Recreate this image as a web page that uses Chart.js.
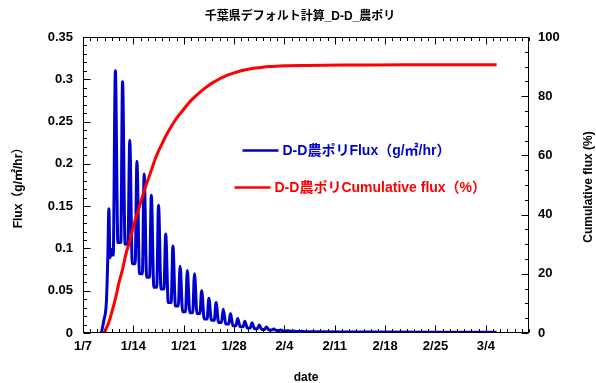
<!DOCTYPE html>
<html>
<head>
<meta charset="utf-8">
<script src="https://cdn.jsdelivr.net/npm/chart.js@4.4.1/dist/chart.umd.min.js"></script>
<style>
  html, body { margin: 0; padding: 0; background: #fff; }
  #wrap { width: 596px; height: 383px; }
</style>
</head>
<body>
<div id="wrap"><canvas id="fluxChart" width="596" height="383"></canvas></div>
<script>
// days are counted from 1/7 00:00
const weekLabels = ['1/7', '1/14', '1/21', '1/28', '2/4', '2/11', '2/18', '2/25', '3/4'];
const fluxTicks = [0, 0.05, 0.1, 0.15, 0.2, 0.25, 0.3, 0.35];
const cumTicks = [0, 20, 40, 60, 80, 100];

// start of emission, before the first daily peak
const onsetDays = [2.55, 2.9, 3.25, 3.45, 3.6, 3.75, 4.05, 4.2];
const onsetFlux = [0, 0.015, 0.037, 0.09, 0.147, 0.089, 0.099, 0.092];

// daily maxima (first at day 4.5, then one per day) and the low that follows each
const firstPeakDay = 4.5;
const dailyPeaks = [0.31, 0.297, 0.228, 0.203, 0.188, 0.163, 0.151, 0.117, 0.103, 0.079,
  0.074, 0.07, 0.05, 0.041, 0.036, 0.028, 0.023, 0.017, 0.014, 0.012,
  0.0095, 0.0072, 0.0048, 0.0035, 0.0027, 0.0022, 0.002];
const dailyLows = [0.107, 0.105, 0.082, 0.07, 0.066, 0.054, 0.052, 0.036, 0.032, 0.025,
  0.024, 0.023, 0.0165, 0.015, 0.0125, 0.0105, 0.0085, 0.0075, 0.006, 0.005,
  0.0042, 0.0035, 0.003, 0.0025, 0.002, 0.0017, 0.0016];

// long tail after the daily cycle dies out
const tailDays = [32, 40, 50, 57.5];
const tailFlux = [0.0015, 0.0012, 0.001, 0.001];

// cumulative flux (%)
const cumDays = [2.9, 3.5, 4.0, 4.5, 5.0, 5.5, 6.0, 6.5, 7.0, 7.5, 8.0, 8.5, 9.0, 9.5, 10.0,
  10.5, 11.0, 11.5, 12.0, 12.5, 13.0, 14.0, 15.0, 16.0, 17.0, 18.0, 19.0, 20.0, 21.0, 22.0,
  23.0, 24.0, 25.0, 26.0, 28.0, 31.0, 36.0, 45.0, 57.5];
const cumPct = [0, 3, 7, 11.5, 17, 21.5, 27, 31, 36, 40, 44, 48, 51.5, 55, 58.5,
  61.5, 64, 66.5, 68.7, 70.7, 72.5, 75.6, 78.5, 80.8, 82.8, 84.5, 85.9, 87.0, 87.9, 88.6,
  89.1, 89.5, 89.8, 90.0, 90.3, 90.4, 90.5, 90.6, 90.6];

const BLUE = '#0000cc';
const RED = '#ff0000';
const family = '"Liberation Sans", Arial, "Noto Sans CJK JP", sans-serif';
const labelFont = { family: family, size: 13, weight: 'bold' };

// build the flux series point by point
const fluxPoints = onsetDays.map((d, i) => ({ x: d, y: onsetFlux[i] }));
dailyPeaks.forEach((p, k) => {
  const d = firstPeakDay + k;
  fluxPoints.push({ x: d, y: p });
  fluxPoints.push({ x: d + 0.35, y: dailyLows[k] });
  fluxPoints.push({ x: d + 0.75, y: dailyLows[k] });
});
tailDays.forEach((d, i) => fluxPoints.push({ x: d, y: tailFlux[i] }));

const cumPoints = cumDays.map((d, i) => ({ x: d, y: cumPct[i] }));

// frame, inward tick marks, legend, chart title and right-hand axis title
const decorations = {
  id: 'decorations',
  afterDatasetsDraw(chart) {
    const { ctx, chartArea: a, scales } = chart;
    const L = Math.round(a.left) + 0.5, R = Math.round(a.right) - 0.5;
    const T = Math.round(a.top) + 0.5, B = Math.round(a.bottom) - 0.5;
    ctx.save();
    ctx.strokeStyle = '#000';
    ctx.lineWidth = 1;
    ctx.beginPath();
    const seg = (x1, y1, x2, y2) => { ctx.moveTo(x1, y1); ctx.lineTo(x2, y2); };
    // x: a tick every day, longer every week
    for (let d = 0; d <= scales.x.max; d++) {
      const px = Math.round(scales.x.getPixelForValue(d)) + 0.5;
      const len = d % 7 === 0 ? 7 : 3.5;
      seg(px, B, px, B - len);
      seg(px, T, px, T + len);
    }
    // left: every 0.01, longer every 0.05
    for (let i = 0; i <= 35; i++) {
      const py = Math.round(scales.y.getPixelForValue(i / 100)) + 0.5;
      seg(L, py, L + (i % 5 === 0 ? 7 : 3.5), py);
    }
    // right: every 5 %, longer every 20 %
    for (let i = 0; i <= 100; i += 5) {
      const py = Math.round(scales.y2.getPixelForValue(i)) + 0.5;
      seg(R, py, R - (i % 20 === 0 ? 7 : 3.5), py);
    }
    ctx.stroke();
    ctx.strokeRect(L, T, R - L, B - T);

    // legend inside the plot
    ctx.font = 'bold 14px ' + family;
    ctx.textBaseline = 'middle';
    ctx.textAlign = 'left';
    const items = [
      { ds: chart.data.datasets[1], x0: L + 159, y: T + 113 },
      { ds: chart.data.datasets[0], x0: L + 151, y: T + 150 }
    ];
    items.forEach(it => {
      ctx.strokeStyle = it.ds.borderColor;
      ctx.lineWidth = 2.5;
      ctx.beginPath();
      ctx.moveTo(it.x0, it.y);
      ctx.lineTo(it.x0 + 36, it.y);
      ctx.stroke();
      ctx.fillStyle = it.ds.borderColor;
      ctx.fillText(it.ds.label, it.x0 + 40, it.y + 1);
    });

    // right axis title, reading bottom to top
    ctx.fillStyle = '#000';
    ctx.font = 'bold 12px ' + family;
    ctx.textAlign = 'center';
    ctx.translate(589, (a.top + a.bottom) / 2 + 2);
    ctx.rotate(-Math.PI / 2);
    ctx.fillText('Cumulative flux (%)', 0, 0);
    ctx.restore();

    // chart title
    ctx.save();
    ctx.fillStyle = '#000';
    ctx.font = 'bold 12px ' + family;
    ctx.textAlign = 'center';
    ctx.textBaseline = 'middle';
    ctx.fillText('千葉県デフォルト計算_D-D_農ポリ', 300, 17);
    ctx.restore();
  }
};

const fmt = v => String(parseFloat(v.toFixed(2)));

new Chart(document.getElementById('fluxChart'), {
  type: 'line',
  data: {
    datasets: [
      {
        label: 'D-D農ポリCumulative flux（%）',
        data: cumPoints,
        yAxisID: 'y2',
        borderColor: RED,
        borderWidth: 3,
        pointRadius: 0,
        tension: 0.3,
        order: 0
      },
      {
        label: 'D-D農ポリFlux（g/㎡/hr）',
        data: fluxPoints,
        yAxisID: 'y',
        borderColor: BLUE,
        borderWidth: 3,
        pointRadius: 0,
        cubicInterpolationMode: 'monotone',
        order: 1
      }
    ]
  },
  options: {
    responsive: false,
    animation: false,
    layout: { padding: { top: 37, left: 0, right: 0, bottom: 0 } },
    plugins: {
      legend: { display: false },
      tooltip: { enabled: false },
      title: { display: false }
    },
    scales: {
      x: {
        type: 'linear',
        min: 0,
        max: 62,
        grid: { display: false, drawTicks: false },
        border: { display: false },
        afterBuildTicks: s => { s.ticks = weekLabels.map((_, i) => ({ value: i * 7 })); },
        afterFit: s => { s.height = 50; },
        ticks: {
          callback: v => weekLabels[Math.round(v / 7)],
          font: labelFont,
          color: '#000',
          padding: 6,
          maxRotation: 0,
          autoSkip: false
        },
        title: {
          display: true,
          text: 'date',
          font: { ...labelFont, size: 12, lineHeight: 0.9 },
          color: '#000',
          padding: { top: 0, bottom: 0 }
        }
      },
      y: {
        position: 'left',
        min: 0,
        max: 0.35,
        grid: { display: false, drawTicks: false },
        border: { display: false },
        afterBuildTicks: s => { s.ticks = fluxTicks.map(v => ({ value: v })); },
        afterFit: s => { s.width = 83; },
        ticks: { callback: v => fmt(v), font: labelFont, color: '#000', padding: 10 },
        title: {
          display: true,
          text: 'Flux（g/㎡/hr）',
          font: { ...labelFont, size: 12, lineHeight: 1 },
          color: '#000',
          padding: { top: 13, bottom: 0 }
        }
      },
      y2: {
        position: 'right',
        min: 0,
        max: 100,
        grid: { display: false, drawTicks: false },
        border: { display: false },
        afterBuildTicks: s => { s.ticks = cumTicks.map(v => ({ value: v })); },
        afterFit: s => { s.width = 67; },
        ticks: { font: labelFont, color: '#000', padding: 9 }
      }
    }
  },
  plugins: [decorations]
});
</script>
</body>
</html>
